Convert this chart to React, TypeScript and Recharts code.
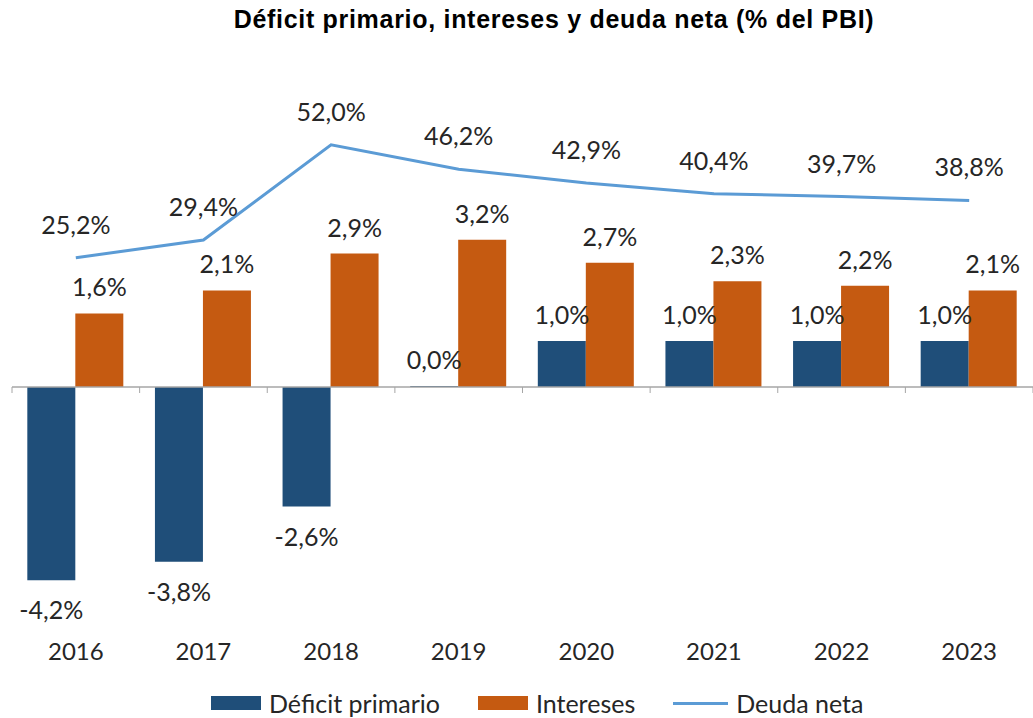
import {
  ComposedChart,
  Bar,
  Line,
  XAxis,
  YAxis,
  ReferenceLine,
  LabelList,
  Legend,
} from 'recharts';

const years = ['2016', '2017', '2018', '2019', '2020', '2021', '2022', '2023'];
const deficitPrimario = [-4.2, -3.8, -2.6, 0.0, 1.0, 1.0, 1.0, 1.0];
const intereses = [1.6, 2.1, 2.9, 3.2, 2.7, 2.3, 2.2, 2.1];
const deudaNeta = [25.2, 29.4, 52.0, 46.2, 42.9, 40.4, 39.7, 38.8];

const BLUE = '#1f4e79';
const ORANGE = '#c55a11';
const LINE = '#5b9bd5';
const TEXT = '#262626';
const FONT = 'Lato, "Open Sans", sans-serif';

const W = 1033;
const H = 718;
const TOP = 111;
const PLOT_H = 506;
const LEFT_DOMAIN: [number, number] = [-5, 6];
const RIGHT_DOMAIN: [number, number] = [-60, 60];
const ZERO_Y = TOP + (PLOT_H * LEFT_DOMAIN[1]) / (LEFT_DOMAIN[1] - LEFT_DOMAIN[0]);
const BAND = (W - 12) / years.length;

const data = years.map((year, i) => ({
  year,
  deficit: deficitPrimario[i],
  intereses: intereses[i],
  deuda: deudaNeta[i],
}));

const fmt = (v: number) => `${Number(v).toFixed(1).replace('.', ',')}%`;

function BarLabel(props: any) {
  const { x, y, width, height, value } = props;
  const top = Math.min(y, y + height);
  const bottom = Math.max(y, y + height);
  const cy = value < 0 ? bottom + 29 : top - 27;
  return (
    <text
      x={x + width / 2}
      y={cy}
      textAnchor="middle"
      dominantBaseline="central"
      fontFamily={FONT}
      fontSize={25}
      fill={TEXT}
    >
      {fmt(value)}
    </text>
  );
}

function LineLabel(props: any) {
  const { x, y, value } = props;
  return (
    <text
      x={x}
      y={y - 34}
      textAnchor="middle"
      dominantBaseline="central"
      fontFamily={FONT}
      fontSize={25}
      fill={TEXT}
    >
      {fmt(value)}
    </text>
  );
}

function YearTick(props: any) {
  const { x, y, payload, index } = props;
  const isLast = index === years.length - 1;
  return (
    <g>
      <line x1={x - BAND / 2} x2={x - BAND / 2} y1={ZERO_Y} y2={ZERO_Y + 6} stroke="#a6a6a6" />
      {isLast && (
        <line x1={x + BAND / 2} x2={x + BAND / 2} y1={ZERO_Y} y2={ZERO_Y + 6} stroke="#a6a6a6" />
      )}
      <text
        x={x}
        y={y + 25}
        textAnchor="middle"
        dominantBaseline="central"
        fontFamily={FONT}
        fontSize={24}
        fill={TEXT}
      >
        {payload.value}
      </text>
    </g>
  );
}

const legendItems = [
  { label: 'Déficit primario', color: BLUE, type: 'rect' },
  { label: 'Intereses', color: ORANGE, type: 'rect' },
  { label: 'Deuda neta', color: LINE, type: 'line' },
];

function ChartLegend() {
  return (
    <div
      style={{
        display: 'flex',
        justifyContent: 'flex-start',
        alignItems: 'center',
        gap: 38,
        paddingLeft: 211,
        fontFamily: FONT,
        fontSize: 25,
        color: TEXT,
      }}
    >
      {legendItems.map((item) => (
        <div key={item.label} style={{ display: 'flex', alignItems: 'center', gap: 8 }}>
          {item.type === 'rect' ? (
            <div style={{ width: 50, height: 14, backgroundColor: item.color }} />
          ) : (
            <div style={{ width: 55, height: 3, backgroundColor: item.color }} />
          )}
          <span>{item.label}</span>
        </div>
      ))}
    </div>
  );
}

export default function App() {
  return (
    <div style={{ position: 'absolute', left: 0, top: 0, width: W, height: H, background: '#fff' }}>
      <div
        style={{
          position: 'absolute',
          top: 5,
          left: 0,
          width: 1108,
          textAlign: 'center',
          fontFamily: '"Liberation Sans", Arial, sans-serif',
          fontWeight: 'bold',
          fontSize: 25,
          letterSpacing: 0.7,
          color: '#000',
        }}
      >
        Déficit primario, intereses y deuda neta (% del PBI)
      </div>
      <ComposedChart
        width={W}
        height={H}
        data={data}
        margin={{ top: TOP, right: 0, left: 12, bottom: H - TOP - PLOT_H - 40 }}
        barCategoryGap="12%"
        barGap={0}
      >
        <XAxis
          dataKey="year"
          height={40}
          axisLine={false}
          tickLine={false}
          tick={<YearTick />}
          interval={0}
        />
        <YAxis yAxisId="left" domain={LEFT_DOMAIN} hide />
        <YAxis yAxisId="right" orientation="right" domain={RIGHT_DOMAIN} hide />
        <Bar
          yAxisId="left"
          dataKey="deficit"
          name="Déficit primario"
          fill={BLUE}
          minPointSize={(v: number) => (v === 0 ? 1 : 0)}
          isAnimationActive={false}
        >
          <LabelList dataKey="deficit" content={<BarLabel />} />
        </Bar>
        <Bar yAxisId="left" dataKey="intereses" name="Intereses" fill={ORANGE} isAnimationActive={false}>
          <LabelList dataKey="intereses" content={<BarLabel />} />
        </Bar>
        <ReferenceLine yAxisId="left" y={0} stroke="#a6a6a6" strokeWidth={1.5} />
        <Line
          yAxisId="right"
          type="linear"
          dataKey="deuda"
          name="Deuda neta"
          stroke={LINE}
          strokeWidth={3}
          dot={false}
          isAnimationActive={false}
        >
          <LabelList dataKey="deuda" content={<LineLabel />} />
        </Line>
        <Legend
          verticalAlign="middle"
          content={<ChartLegend />}
          wrapperStyle={{ top: 688, left: 0, width: W, height: 30 }}
        />
      </ComposedChart>
    </div>
  );
}
